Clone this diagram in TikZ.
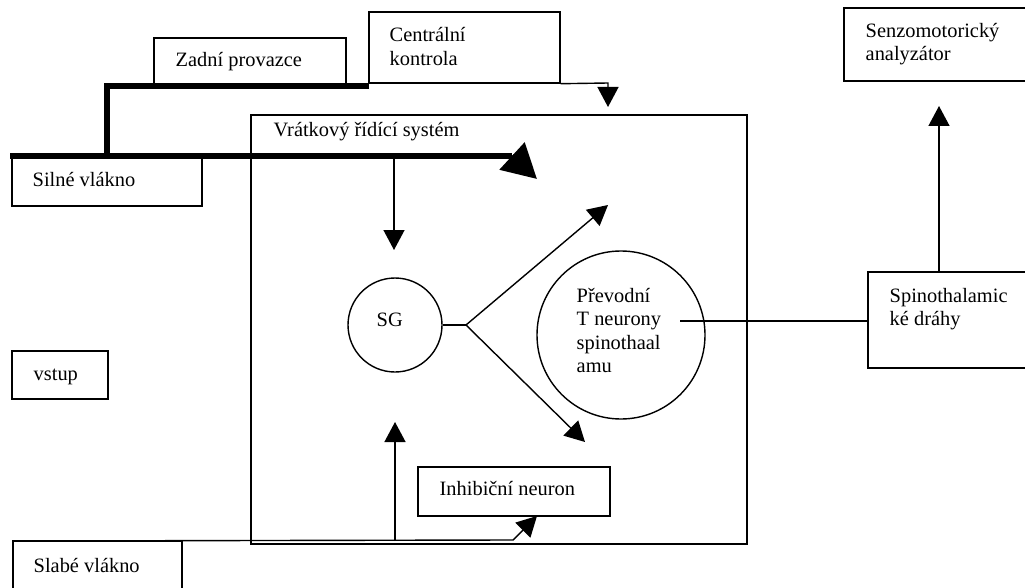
\documentclass[tikz,border=0pt]{standalone}
\usepackage{fontspec}
\setmainfont{Liberation Serif}
\usetikzlibrary{arrows.meta}
\begin{document}
\begin{tikzpicture}[x=1pt,y=-1pt,
  line width=1.4pt,
  boxn/.style={draw,rectangle,inner sep=0pt,line width=1.4pt},
  circn/.style={draw,circle,inner sep=0pt,line width=1.4pt},
  txt/.style={anchor=base west,inner sep=0pt,align=left,font=\fontsize{20.4}{23.6}\selectfont},
  thickline/.style={line width=5.5pt},
  arr/.style={-{Triangle[length=20pt,width=21pt]}},
  bigarr/.style={-{Triangle[length=34pt,width=36pt]}}
]
\useasboundingbox (0,0) rectangle (1025,588);
\clip (0,0) rectangle (1025,588);
% boxes
\node[boxn,minimum width=192pt,minimum height=46pt] (zad) at (250,61) {};
\node[boxn,minimum width=191pt,minimum height=71pt] (cen) at (464.5,47.5) {};
\node[boxn,minimum width=190pt,minimum height=50pt] (sil) at (107,181) {};
\node[boxn,minimum width=96pt,minimum height=48pt] (vst) at (60,375) {};
\node[boxn,minimum width=169pt,minimum height=59pt] (sla) at (97.5,570.5) {};
\node[boxn,minimum width=496pt,minimum height=429pt] (big) at (499,329.5) {};
\node[boxn,minimum width=192pt,minimum height=49pt] (inh) at (514,491.5) {};
\node[boxn,minimum width=196pt,minimum height=73pt] (sen) at (942,44.5) {};
\node[boxn,minimum width=172pt,minimum height=96pt] (spi) at (954,320) {};
\node[circn,minimum size=94pt] (sg) at (395,325) {};
\node[circn,minimum size=168pt] (tn) at (621,335) {};
% texts
\node[txt] (zadt) at (175,67) {Zadní provazce};
\node[txt] (cent) at (389,65.6) {Centrální\\kontrola};
\node[txt] (silt) at (32,187) {Silné vlákno};
\node[txt] (vstt) at (33,380) {vstup};
\node[txt] (slat) at (33,572) {Slabé vlákno};
\node[txt] (bigt) at (273,137) {Vrátkový řídící systém};
\node[txt] (inht) at (439,495) {Inhibiční neuron};
\node[txt] (sent) at (865,61) {Senzomotorický\\analyzátor};
\node[txt] (spit) at (889,325.6) {Spinothalamic\\ké dráhy};
\node[txt] (sgt) at (376,326) {SG};
\node[txt] (tnt) at (576,372.8) {Převodní\\T neurony\\spinothaal\\amu};
% coordinates
\coordinate (k1) at (369,86);
\coordinate (k2) at (107,86);
\coordinate (k3) at (107,156);
\coordinate (h0) at (10,156);
\coordinate (h1) at (512,156);
\coordinate (h2) at (537,179);
\coordinate (c1) at (608,83);
\coordinate (c2) at (608,107);
\coordinate (d0) at (394,156);
\coordinate (d1) at (394,250);
\coordinate (br) at (466,325);
\coordinate (u1) at (608,205);
\coordinate (u2) at (585,442);
\coordinate (t0) at (680,321);
\coordinate (s0) at (939,272);
\coordinate (s1) at (939,106);
\coordinate (w0) at (13,541);
\coordinate (w1) at (513,540);
\coordinate (w2) at (537,516);
\coordinate (v0) at (395,541);
\coordinate (v1) at (395,422);
% connectors
\draw[thickline] (k1) -- (k2) -- (k3);
\draw[thickline] (h0) -- (h1);
\draw[thickline,bigarr] (h1) -- (h2);
\draw[arr] (cen.south east) -- (c1) -- (c2);
\draw[arr] (d0) -- (d1);
\draw (sg.east) -- (br);
\draw[arr] (br) -- (u1);
\draw[arr] (br) -- (u2);
\draw (t0) -- (spi.west |- t0);
\draw[arr] (s0) -- (s1);
\draw[arr] (w0) -- (w1) -- (w2);
\draw[arr] (v0) -- (v1);
\end{tikzpicture}
\end{document}
